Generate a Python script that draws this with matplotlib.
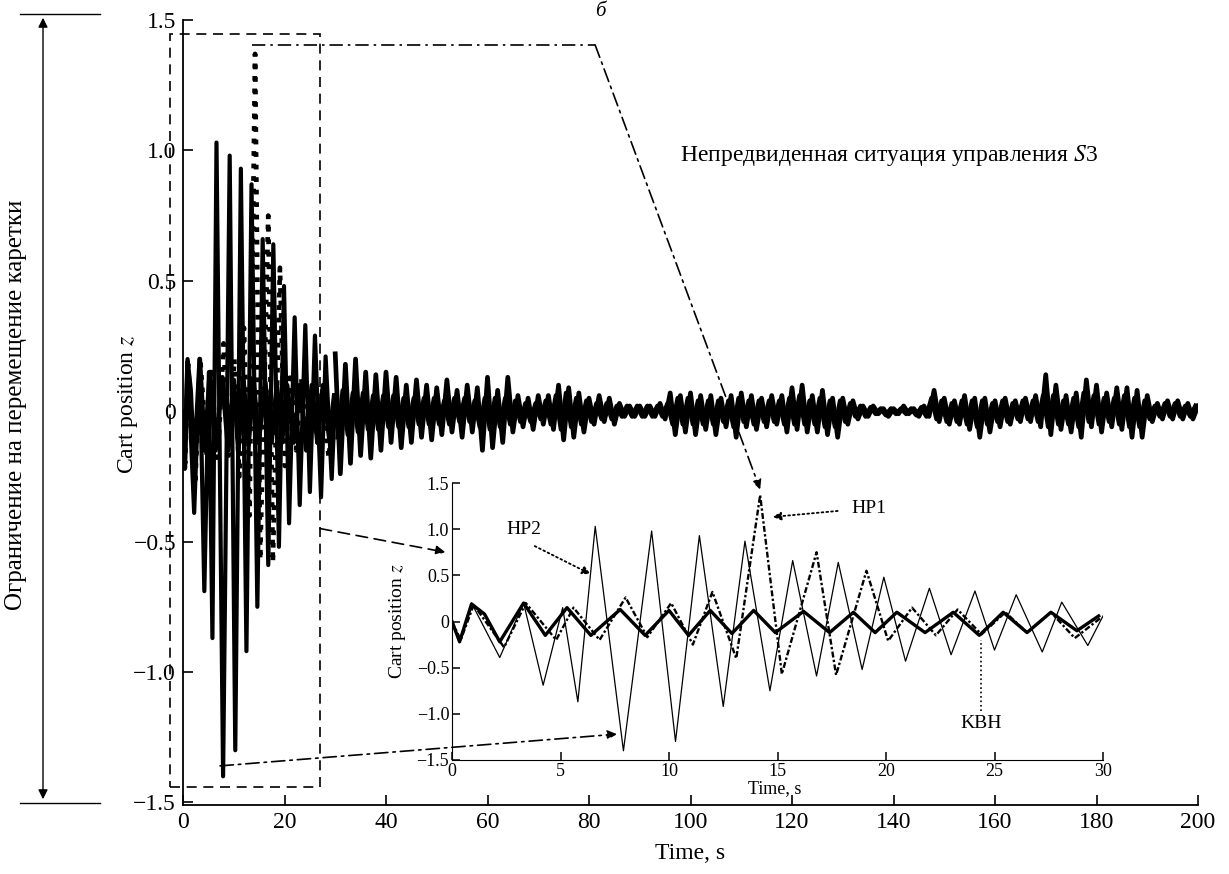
import numpy as np
import matplotlib.pyplot as plt
from matplotlib.patches import Rectangle, ConnectionPatch, FancyArrowPatch
from matplotlib.lines import Line2D

plt.rcParams['font.family'] = ['Liberation Serif', 'DejaVu Serif']
plt.rcParams['mathtext.fontset'] = 'stix'

# inset curves, 0..30 s (peaks and troughs)
hp2_t = [0, 0.35, 0.9, 2.2, 3.3, 4.2, 5.1, 5.8, 6.6, 7.9, 9.2, 10.3, 11.4, 12.5, 13.5,
         14.65, 15.7, 16.8, 17.8, 18.9, 19.9, 20.9, 22.0, 23.0, 24.1, 25.0, 26.0, 27.2,
         28.1, 29.3, 30.0]
hp2_z = [0, -0.2, 0.2, -0.39, 0.2, -0.69, 0.15, -0.87, 1.03, -1.4, 0.98, -1.3, 0.93, -0.92,
         0.87, -0.75, 0.66, -0.59, 0.64, -0.52, 0.48, -0.43, 0.36, -0.36, 0.33, -0.31, 0.29,
         -0.33, 0.21, -0.26, 0.06]

hp1_t = [0, 0.4, 1.0, 2.4, 3.4, 4.8, 5.6, 6.8, 8.0, 9.0, 10.1, 11.1, 12.0, 13.1, 14.2, 15.2,
         16.8, 17.7, 19.1, 20.1, 21.2, 22.3, 23.3, 24.4, 25.5, 26.5, 27.6, 28.7, 29.9]
hp1_z = [0, -0.2, 0.18, -0.28, 0.2, -0.2, 0.15, -0.2, 0.26, -0.17, 0.2, -0.25, 0.32, -0.4,
         1.37, -0.57, 0.75, -0.58, 0.55, -0.21, 0.15, -0.15, 0.13, -0.14, 0.1, -0.12, 0.1,
         -0.18, 0.04]

kbh_t = [0, 0.35, 0.9, 1.5, 2.2, 3.3, 4.3, 5.3, 6.4, 7.75, 8.9, 10.0, 10.9, 11.9, 12.9, 13.9,
         14.9, 16.2, 17.4, 18.5, 19.5, 20.5, 21.8, 23.1, 24.3, 25.4, 26.5, 27.6, 28.8, 29.8]
kbh_z = [0, -0.22, 0.19, 0.08, -0.22, 0.2, -0.15, 0.15, -0.15, 0.13, -0.15, 0.12, -0.15, 0.12,
         -0.13, 0.12, -0.12, 0.11, -0.12, 0.1, -0.12, 0.1, -0.12, 0.1, -0.15, 0.1, -0.12, 0.1,
         -0.1, 0.06]

# long run 30..200 s (the three curves merge into one black band)
tail_t = np.arange(30, 201)
tail_z = [0.22, -0.24, 0.18, -0.2, 0.2, -0.17, 0.15, -0.18, 0.14, -0.15,
          0.15, -0.12, 0.13, -0.14, 0.1, -0.12, 0.12, -0.1, 0.1, -0.11,
          0.09, -0.09, 0.12, -0.08, 0.08, -0.1, 0.1, -0.08, 0.09, -0.15,
          0.13, -0.14, 0.08, -0.12, 0.13, -0.08, 0.06, -0.06, 0.05, -0.07,
          0.06, -0.05, 0.06, -0.07, 0.1, -0.11, 0.09, -0.1, 0.07, -0.08,
          0.05, -0.05, 0.06, -0.04, 0.05, -0.05, 0.03, -0.02, 0.02, -0.02,
          0.02, -0.02, 0.02, -0.02, 0.03, -0.03, 0.07, -0.09, 0.06, -0.08,
          0.07, -0.09, 0.06, -0.07, 0.06, -0.09, 0.05, -0.06, 0.06, -0.1,
          0.07, -0.06, 0.06, -0.07, 0.05, -0.06, 0.06, -0.05, 0.06, -0.08,
          0.09, -0.07, 0.1, -0.08, 0.06, -0.08, 0.08, -0.09, 0.05, -0.1,
          0.05, -0.05, 0.04, -0.03, 0.02, -0.02, 0.02, -0.01, 0.01, -0.02,
          0.01, -0.01, 0.02, -0.01, 0.01, -0.02, 0.02, -0.02, 0.08, -0.04,
          0.05, -0.05, 0.04, -0.05, 0.06, -0.07, 0.05, -0.1, 0.05, -0.08,
          0.04, -0.06, 0.05, -0.05, 0.04, -0.04, 0.05, -0.04, 0.06, -0.06,
          0.14, -0.09, 0.1, -0.07, 0.06, -0.08, 0.07, -0.1, 0.12, -0.06,
          0.1, -0.08, 0.07, -0.06, 0.09, -0.07, 0.09, -0.1, 0.08, -0.1,
          0.06, -0.04, 0.03, -0.03, 0.04, -0.03, 0.04, -0.03, 0.03, -0.03,
          0.02]

# the smaller KBH swing inside the band, sampled between the points above
tail2_t = np.arange(30.5, 200, 1.0)
tail2_z = [-0.1, 0.08, -0.09, 0.07, -0.08, 0.07, -0.07, 0.06, -0.07, 0.06,
           -0.06, 0.06, -0.06, 0.05, -0.06, 0.05, -0.05, 0.05, -0.05, 0.05,
           -0.05, 0.04, -0.05, 0.05, -0.04, 0.05, -0.04, 0.04, -0.06, 0.05,
           -0.07, 0.05, -0.06, 0.05, -0.05, 0.04, -0.04, 0.03, -0.04, 0.03,
           -0.03, 0.04, -0.05, 0.06, -0.07, 0.07, -0.06, 0.05, -0.05, 0.04,
           -0.04, 0.03, -0.03, 0.03, -0.03, 0.02, -0.02, 0.02, -0.02, 0.02,
           -0.02, 0.02, -0.02, 0.02, -0.02, 0.03, -0.05, 0.05, -0.05, 0.05,
           -0.05, 0.04, -0.05, 0.04, -0.05, 0.04, -0.04, 0.04, -0.06, 0.05,
           -0.04, 0.04, -0.05, 0.04, -0.04, 0.04, -0.04, 0.04, -0.05, 0.05,
           -0.05, 0.06, -0.05, 0.04, -0.05, 0.05, -0.06, 0.04, -0.06, 0.04,
           -0.04, 0.03, -0.02, 0.02, -0.02, 0.015, -0.01, 0.01, -0.015, 0.01,
           -0.01, 0.01, -0.01, 0.01, -0.015, 0.015, -0.02, 0.05, -0.03, 0.04,
           -0.04, 0.03, -0.04, 0.04, -0.05, 0.04, -0.06, 0.04, -0.05, 0.03,
           -0.04, 0.04, -0.04, 0.03, -0.03, 0.04, -0.03, 0.04, -0.04, 0.06,
           -0.06, 0.06, -0.05, 0.04, -0.05, 0.05, -0.06, 0.07, -0.04, 0.06,
           -0.05, 0.05, -0.04, 0.05, -0.05, 0.06, -0.06, 0.05, -0.06, 0.04,
           -0.03, 0.02, -0.02, 0.03, -0.02, 0.03, -0.02, 0.02, -0.02, 0.02]

main_xticks = [0, 20, 40, 60, 80, 100, 120, 140, 160, 180, 200]
yticks = [-1.5, -1.0, -0.5, 0, 0.5, 1.0, 1.5]
ytick_labels = ['\u22121.5', '\u22121.0', '\u22120.5', '0', '0.5', '1.0', '1.5']
inset_xticks = [0, 5, 10, 15, 20, 25, 30]

fig = plt.figure(figsize=(12.29, 8.74), dpi=100)
W, H = 1229.0, 874.0

def fx(px):
    return px / W

def fy(py):
    return 1 - py / H

# ---- main axes
ax = fig.add_axes([fx(183), fy(805), (1198 - 183) / W, (805 - 20) / H])
ax.plot(tail_t, tail_z, color='black', lw=3.4)
ax.plot(tail2_t, tail2_z, color='black', lw=3.4)
ax.plot(hp2_t, hp2_z, color='black', lw=3.0)
ax.plot(kbh_t, kbh_z, color='black', lw=3.4)
ax.plot(hp1_t, hp1_z, color='black', lw=3.4, ls=':')
ax.set_xlim(0, 200)
ax.set_ylim(-1.51, 1.5)
ax.set_xticks(main_xticks)
ax.set_yticks(yticks, ytick_labels)
ax.tick_params(direction='in', length=7, width=1.2, labelsize=17, pad=5)
for s in ['top', 'right']:
    ax.spines[s].set_visible(False)
for s in ['left', 'bottom']:
    ax.spines[s].set_linewidth(1.3)
ax.set_xlabel('Time, s', fontsize=17)
ax.xaxis.set_label_coords(0.5, -0.048)
ax.set_ylabel('Cart position $z$', fontsize=17)
ax.yaxis.set_label_coords(-0.042, 0.51)
ax.text(98, 0.98, '\u041d\u0435\u043f\u0440\u0435\u0434\u0432\u0438\u0434\u0435\u043d\u043d\u0430\u044f '
        '\u0441\u0438\u0442\u0443\u0430\u0446\u0438\u044f \u0443\u043f\u0440\u0430\u0432\u043b\u0435\u043d\u0438\u044f $S$3',
        fontsize=17, va='center', ha='left')

# zoom frame
ax.add_patch(Rectangle((-2.56, -1.44), 29.6, 2.887, fill=False, ls=(0, (6, 4)),
                       lw=1.2, ec='black', clip_on=False))

# ---- inset
ax_in = fig.add_axes([fx(452), fy(760), 651 / W, (760 - 483) / H])
ax_in.plot(hp2_t, hp2_z, color='black', lw=0.9)
ax_in.plot(hp1_t, hp1_z, color='black', lw=1.7, ls=(0, (2.5, 1, 1, 1)))
ax_in.plot(kbh_t, kbh_z, color='black', lw=2.4)
ax_in.set_xlim(0, 30)
ax_in.set_ylim(-1.5, 1.5)
ax_in.set_xticks(inset_xticks)
ax_in.set_yticks(yticks, ytick_labels)
ax_in.tick_params(direction='in', length=6, width=1.1, labelsize=13, pad=2)
for s in ['top', 'right']:
    ax_in.spines[s].set_visible(False)
ax_in.set_xlabel('Time, s', fontsize=13)
ax_in.xaxis.set_label_coords(0.496, -0.072)
ax_in.set_ylabel('Cart position $z$', fontsize=14)
ax_in.yaxis.set_label_coords(-0.068, 0.5)
ax_in.patch.set_alpha(0)

# labels in the inset
ax_in.text(3.3, 1.0, 'HP2', fontsize=14, ha='center', va='center')
ax_in.annotate('', xy=(6.5, 0.5), xytext=(3.7, 0.83),
               arrowprops=dict(arrowstyle='-|>', ls=':', lw=1.3, color='black', mutation_scale=12))
ax_in.text(18.4, 1.22, 'HP1', fontsize=14, ha='left', va='center')
ax_in.annotate('', xy=(14.65, 1.13), xytext=(17.9, 1.2),
               arrowprops=dict(arrowstyle='-|>', ls=':', lw=1.3, color='black', mutation_scale=12))
ax_in.text(24.4, -1.1, 'KBH', fontsize=14, ha='center', va='center')
ax_in.plot([24.4, 24.4], [-0.97, -0.2], color='black', lw=1.2, ls=':')

# connectors between main axes and inset
ax.add_line(Line2D([13.5, 81.2], [1.405, 1.405], color='black', lw=1.2,
                   ls=(0, (8, 3, 1.5, 3)), clip_on=False))
for xa, xb, style in [((81.2, 1.405), (14.2, 1.43), (0, (8, 3, 1.5, 3))),
                      ((7.3, -1.36), (7.6, -1.22), (0, (8, 3, 1.5, 3))),
                      ((27.0, -0.45), (-0.3, 0.75), (0, (7, 4)))]:
    cp = ConnectionPatch(xyA=xa, coordsA=ax.transData, xyB=xb, coordsB=ax_in.transData,
                         arrowstyle='-|>', mutation_scale=14, lw=1.2, ls=style, color='black')
    fig.add_artist(cp)

# left side: limit on carriage travel
fig.add_artist(Line2D([fx(20), fx(100)], [fy(14), fy(14)], color='black', lw=1.0))
fig.add_artist(Line2D([fx(20), fx(100)], [fy(803), fy(803)], color='black', lw=1.0))
fig.add_artist(FancyArrowPatch((fx(43), fy(15)), (fx(43), fy(802)), transform=fig.transFigure,
                               arrowstyle='<|-|>', mutation_scale=14, lw=1.0, color='black'))
fig.text(fx(16), fy(405), '\u041e\u0433\u0440\u0430\u043d\u0438\u0447\u0435\u043d\u0438\u0435 \u043d\u0430 '
         '\u043f\u0435\u0440\u0435\u043c\u0435\u0449\u0435\u043d\u0438\u0435 \u043a\u0430\u0440\u0435\u0442\u043a\u0438',
         rotation=90, fontsize=18, ha='center', va='center')
fig.text(fx(600), fy(12), '\u0431', fontsize=15, style='italic', ha='center', va='center')

fig.savefig('out.png', dpi=100)
